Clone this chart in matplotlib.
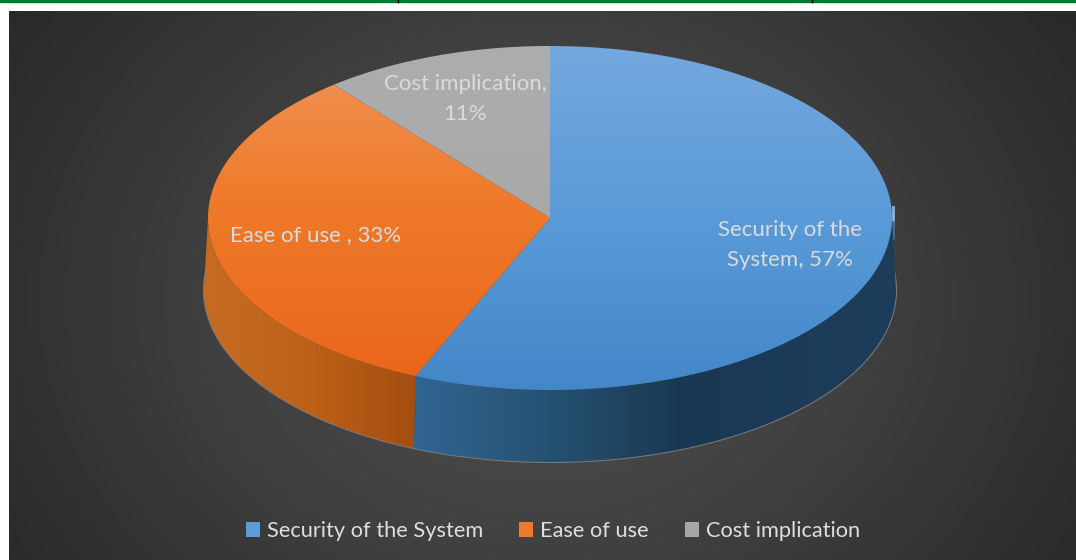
#!/bin/python3
import numpy as np
import matplotlib
matplotlib.use("Agg")
import matplotlib.pyplot as plt
from matplotlib.colors import LinearSegmentedColormap
from matplotlib.patches import Patch, Polygon, Rectangle

categories = ["Security of the System", "Ease of use", "Cost implication"]
shares = [57, 33, 11]
slice_labels = ["Security of the\nSystem, 57%", "Ease of use , 33%",
                "Cost implication,\n11%"]

WIDTH, HEIGHT = 1076, 560
CX, CY = 550, 218
RX, RY = 342, 172
DEPTH = 72
BASE_GROW = 4

TOP_COLORS = [[(0, "#74a8de"), (0.5, "#5a9ad8"), (1, "#4387c8")],
              [(0, "#f19459"), (0.45, "#ef7a2a"), (1, "#e8651a")],
              [(0, "#adadad"), (1, "#a3a3a3")]]
SIDE_COLORS = [[(0, "#316591"), (0.3, "#24506f"), (0.55, "#1a3853"), (1, "#1e3d5a")],
               [(0, "#c66c22"), (0.5, "#bd6119"), (1, "#a34e10")], None]
LEGEND_COLORS = ["#5b9bd8", "#ee7a2c", "#a6a6a6"]


def rim(angles, rx=RX, cy=CY):
    # angles are clockwise from twelve o'clock, in radians
    return np.column_stack([CX + rx * np.sin(angles), cy - RY * np.cos(angles)])


def paint(ax, grad, extent, cmap, clip_xy):
    img = ax.imshow(grad, extent=extent, cmap=cmap, aspect="auto",
                    vmin=0, vmax=1, zorder=3, interpolation="bilinear")
    clip = Polygon(clip_xy, closed=True, transform=ax.transData)
    img.set_clip_path(clip)


plt.rcParams["font.family"] = ["Lato", "DejaVu Sans"]
fig = plt.figure(figsize=(WIDTH / 100, HEIGHT / 100), dpi=100, facecolor="white")
ax = fig.add_axes([0, 0, 1, 1])
ax.set_axis_off()

# rule along the top edge
ax.add_patch(Rectangle((0, 0), WIDTH, 2, color="#007a30", zorder=1))
for tick in (398, 812):
    ax.plot([tick, tick], [0, 2], color="black", lw=1, zorder=2)

# dark radial backdrop
yy, xx = np.mgrid[11:560, 9:1076]
dist = np.hypot((xx - 540) / 640, (yy - 300) / 520)
back = LinearSegmentedColormap.from_list("back", ["#505050", "#404040", "#292929"])
ax.imshow(np.clip(dist, 0, 1), extent=(9, 1076, 560, 11), cmap=back, aspect="auto",
          vmin=0, vmax=1, zorder=1)

fractions = np.array(shares) / sum(shares)
edges = np.concatenate([[0], np.cumsum(fractions)]) * 2 * np.pi

# grey line under the wall, following the base of the disc
t = np.radians(np.linspace(78, 283, 300))
edge = rim(t, rx=RX + BASE_GROW, cy=CY + DEPTH)
ax.plot(edge[:, 0], edge[:, 1], color="#7a7a7a", lw=1.5, zorder=2.5)

# lit sliver where the wall starts on the right
ax.plot([CX + RX + 1] * 2, [CY - 11, CY + 4], color="#86b4e2", lw=2, zorder=2.5)
ax.plot([CX + RX + 1] * 2, [CY + 4, CY + 20], color="#4b6f92", lw=2, zorder=2.5)

# side wall, only the part of the rim facing the viewer
for i in range(len(shares)):
    start = max(edges[i], np.pi / 2)
    stop = min(edges[i + 1], 3 * np.pi / 2)
    if stop <= start or SIDE_COLORS[i] is None:
        continue
    t = np.linspace(start, stop, 200)
    upper = rim(t)
    lower = rim(t, rx=RX + BASE_GROW, cy=CY + DEPTH)
    shape = np.vstack([upper, lower[::-1]])
    x0, x1 = shape[:, 0].min(), shape[:, 0].max()
    cmap = LinearSegmentedColormap.from_list("side%d" % i, SIDE_COLORS[i])
    grad = np.linspace(0, 1, 256).reshape(1, -1)
    paint(ax, grad, (x0, x1, CY + RY + DEPTH + 2, CY), cmap, shape)

# top face
for i in range(len(shares)):
    t = np.linspace(edges[i], edges[i + 1], 300)
    shape = np.vstack([[CX, CY], rim(t)])
    cmap = LinearSegmentedColormap.from_list("top%d" % i, TOP_COLORS[i])
    grad = np.linspace(0, 1, 256).reshape(-1, 1)
    paint(ax, grad, (CX - RX, CX + RX, CY + RY, CY - RY), cmap, shape)

# slice labels
label_xy = [(790, 245), (316, 235), (465, 99)]
for text, (x, y) in zip(slice_labels, label_xy):
    ax.text(x, y, text, color="#d8dbde", fontsize=16, ha="center", va="center",
            linespacing=1.62, zorder=5)

handles = [Patch(facecolor=c, edgecolor="none") for c in LEGEND_COLORS]
fig.legend(handles, categories, loc="center", bbox_to_anchor=(553 / WIDTH, 1 - 531 / HEIGHT),
           ncol=3, frameon=False, fontsize=15.7, labelcolor="#dedede",
           handlelength=0.64, handleheight=0.64, handletextpad=0.32, columnspacing=1.65)

ax.set_xlim(0, WIDTH)
ax.set_ylim(HEIGHT, 0)
fig.savefig("out.png", dpi=100, facecolor="white")
